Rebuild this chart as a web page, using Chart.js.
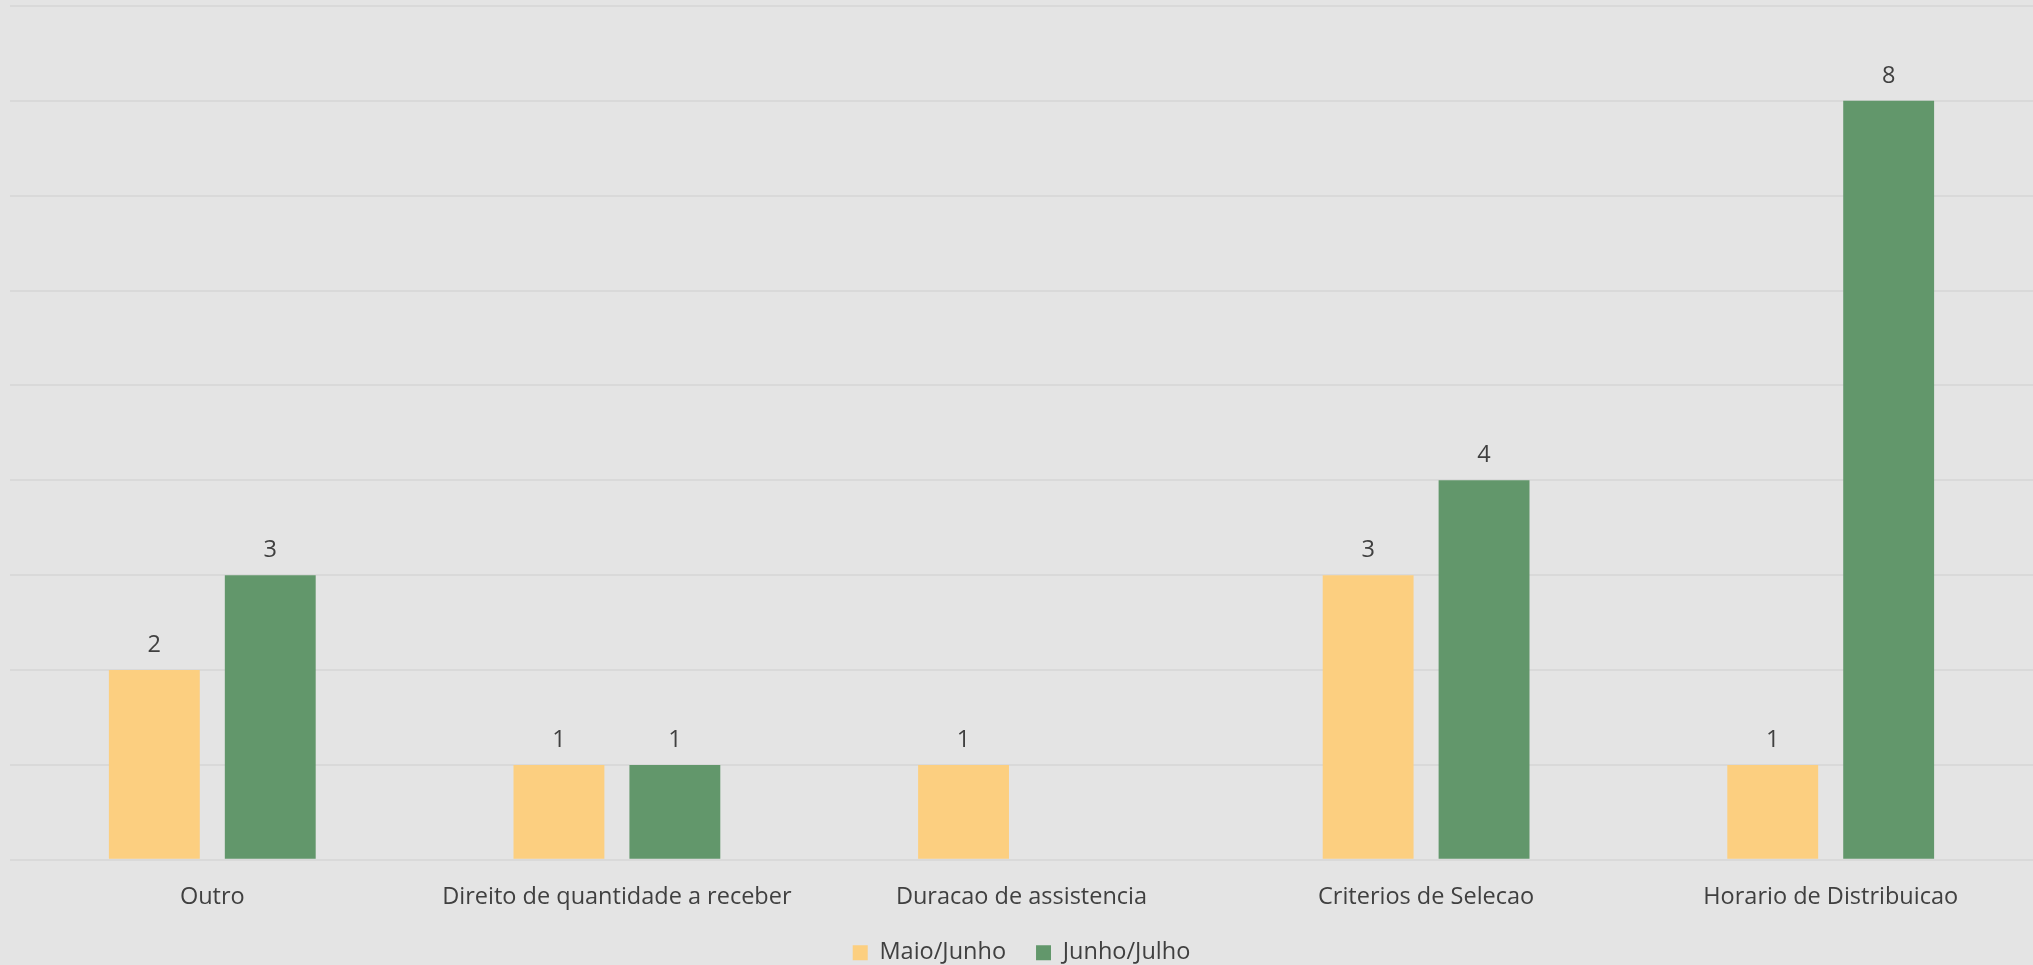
<!DOCTYPE html>
<html>
<head>
<meta charset="utf-8">
<script src="https://cdn.jsdelivr.net/npm/chart.js@4.4.1/dist/chart.umd.min.js"></script>
<style>
html,body{margin:0;padding:0;background:#E4E4E4;overflow:hidden;}
#wrap{width:2033px;height:965px;position:relative;}
</style>
</head>
<body>
<div id="wrap"><canvas id="c" width="2033" height="965"></canvas></div>
<script>
const categories = ["Outro", "Direito de quantidade a receber", "Duracao de assistencia", "Criterios de Selecao", "Horario de Distribuicao"];
const seriesNames = ["Maio/Junho", "Junho/Julho"];
const maioJunho = [2, 1, 1, 3, 1];
const junhoJulho = [3, 1, null, 4, 8];
const yTicks = [0, 1, 2, 3, 4, 5, 6, 7, 8, 9];

const FONT = "'Open Sans', sans-serif";
const FS = 23.5;
const TEXT = "#404040";

const valueLabels = {
  id: 'valueLabels',
  afterDatasetsDraw(chart) {
    const ctx = chart.ctx;
    ctx.save();
    ctx.font = FS + "px " + FONT;
    ctx.fillStyle = TEXT;
    ctx.textAlign = 'center';
    ctx.textBaseline = 'middle';
    chart.data.datasets.forEach((ds, i) => {
      const meta = chart.getDatasetMeta(i);
      meta.data.forEach((bar, j) => {
        const v = ds.data[j];
        if (v === null || v === undefined) return;
        ctx.fillText(String(v), bar.x, bar.y - 25);
      });
    });
    ctx.restore();
  }
};

const bg = {
  id: 'bg',
  beforeDraw(chart) {
    const ctx = chart.ctx;
    ctx.save();
    ctx.fillStyle = '#E4E4E4';
    ctx.fillRect(0, 0, chart.width, chart.height);
    ctx.restore();
  }
};

new Chart(document.getElementById('c'), {
  type: 'bar',
  data: {
    labels: categories,
    datasets: [
      { label: seriesNames[0], data: maioJunho, backgroundColor: '#FCCF80', categoryPercentage: 0.573, barPercentage: 0.784 },
      { label: seriesNames[1], data: junhoJulho, backgroundColor: '#62976B', categoryPercentage: 0.573, barPercentage: 0.784 }
    ]
  },
  options: {
    responsive: false,
    animation: false,
    devicePixelRatio: 1,
    layout: { padding: { left: 10, right: 0, top: 6, bottom: 0 } },
    scales: {
      x: {
        grid: { display: false, drawTicks: true, tickLength: 23 },
        border: { display: false },
        ticks: { color: TEXT, font: { family: FONT, size: FS }, padding: 0, maxRotation: 0 }
      },
      y: {
        min: yTicks[0],
        max: yTicks[yTicks.length - 1],
        afterBuildTicks(axis) { axis.ticks = yTicks.map(v => ({ value: v })); },
        grid: { color: '#D9D9D9', lineWidth: 2, drawTicks: false },
        border: { display: false },
        ticks: { display: false }
      }
    },
    plugins: {
      legend: {
        position: 'bottom',
        maxHeight: 54,
        labels: { color: TEXT, font: { family: FONT, size: FS }, boxWidth: 15, boxHeight: 15, padding: 30 }
      },
      tooltip: { enabled: false }
    }
  },
  plugins: [bg, valueLabels]
});
</script>
</body>
</html>
